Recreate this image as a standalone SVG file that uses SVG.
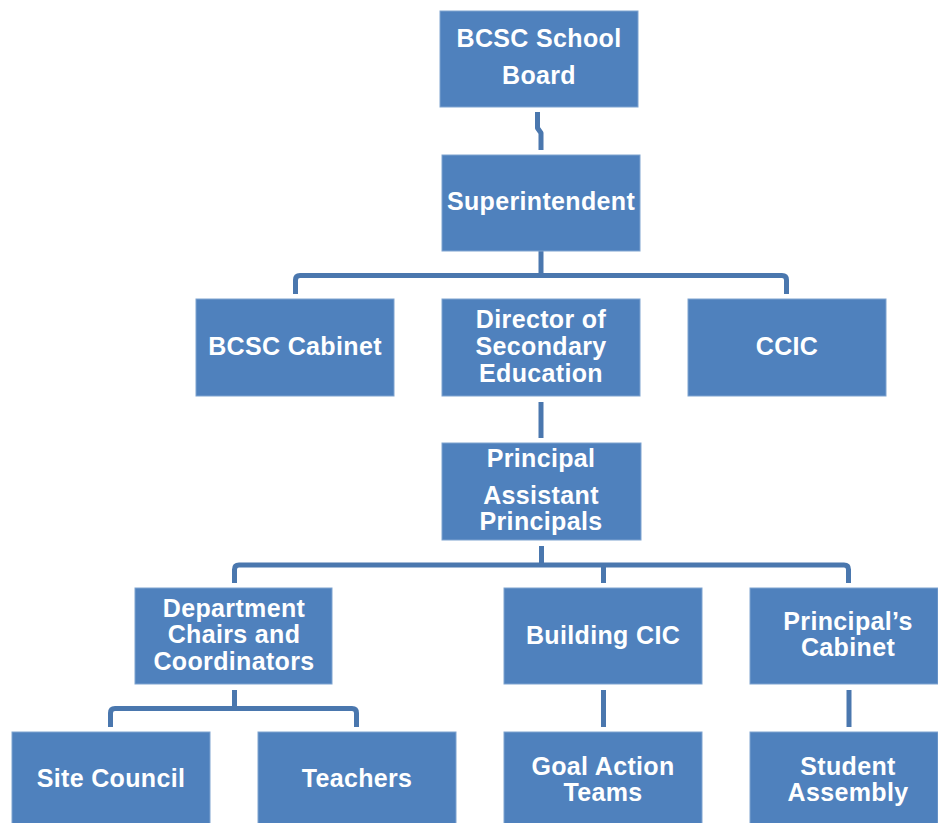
<svg xmlns="http://www.w3.org/2000/svg" width="938" height="823" viewBox="0 0 938 823">
<style>
.box{fill:#4F81BD;stroke:#7EA3D0;stroke-width:1}
.lbl{font-family:"Liberation Sans",Arial,sans-serif;font-weight:bold;font-size:25px;letter-spacing:0.35px;fill:#FFFFFF;text-anchor:middle}
.con{fill:none;stroke:#4A77AE;stroke-width:5;stroke-linejoin:round}
</style>
<rect width="938" height="823" fill="#FFFFFF"/>
<g id="connectors">
<path class="con" d="M537.5 112 V128 L541 133 V150"/>
<path class="con" d="M541 251 V275.5"/>
<path class="con" d="M295.5 294 V280 Q295.5 275.5 300 275.5 H782 Q786.5 275.5 786.5 280 V294"/>
<path class="con" d="M541 402 V438"/>
<path class="con" d="M541.5 546 V565"/>
<path class="con" d="M234.5 583 V569.5 Q234.5 565 239 565 H844 Q848.5 565 848.5 569.5 V583"/>
<path class="con" d="M603.5 565 V583"/>
<path class="con" d="M234.5 690 V708.5"/>
<path class="con" d="M110.5 727 V713 Q110.5 708.5 115 708.5 H352 Q356.5 708.5 356.5 713 V727"/>
<path class="con" d="M603.5 690 V727"/>
<path class="con" d="M849 690 V727"/>
</g>
<g id="board"><rect class="box" x="440" y="11" width="198" height="96"/><text class="lbl" x="539" y="47">BCSC School</text><text class="lbl" x="539" y="84">Board</text></g>
<g id="superintendent"><rect class="box" x="442" y="155" width="198" height="96"/><text class="lbl" x="541" y="210">Superintendent</text></g>
<g id="bcsc-cabinet"><rect class="box" x="196" y="299" width="198" height="97"/><text class="lbl" x="295" y="355">BCSC Cabinet</text></g>
<g id="director"><rect class="box" x="442" y="299" width="198" height="97"/><text class="lbl" x="541" y="328">Director of</text><text class="lbl" x="541" y="355">Secondary</text><text class="lbl" x="541" y="382">Education</text></g>
<g id="ccic"><rect class="box" x="688" y="299" width="198" height="97"/><text class="lbl" x="787" y="355">CCIC</text></g>
<g id="principal"><rect class="box" x="442" y="443" width="199" height="97"/><text class="lbl" x="541" y="467">Principal</text><text class="lbl" x="541" y="504">Assistant</text><text class="lbl" x="541" y="530">Principals</text></g>
<g id="dept-chairs"><rect class="box" x="135" y="588" width="197" height="96"/><text class="lbl" x="234" y="617">Department</text><text class="lbl" x="234" y="643">Chairs and</text><text class="lbl" x="234" y="670">Coordinators</text></g>
<g id="building-cic"><rect class="box" x="504" y="588" width="198" height="96"/><text class="lbl" x="603" y="644">Building CIC</text></g>
<g id="principals-cabinet"><rect class="box" x="750" y="588" width="188" height="96"/><text class="lbl" x="848" y="630">Principal’s</text><text class="lbl" x="848" y="656">Cabinet</text></g>
<g id="site-council"><rect class="box" x="12" y="732" width="198" height="96"/><text class="lbl" x="111" y="787">Site Council</text></g>
<g id="teachers"><rect class="box" x="258" y="732" width="198" height="96"/><text class="lbl" x="357" y="787">Teachers</text></g>
<g id="goal-action"><rect class="box" x="504" y="732" width="198" height="96"/><text class="lbl" x="603" y="775">Goal Action</text><text class="lbl" x="603" y="801">Teams</text></g>
<g id="student-assembly"><rect class="box" x="750" y="732" width="188" height="96"/><text class="lbl" x="848" y="775">Student</text><text class="lbl" x="848" y="801">Assembly</text></g>
</svg>
